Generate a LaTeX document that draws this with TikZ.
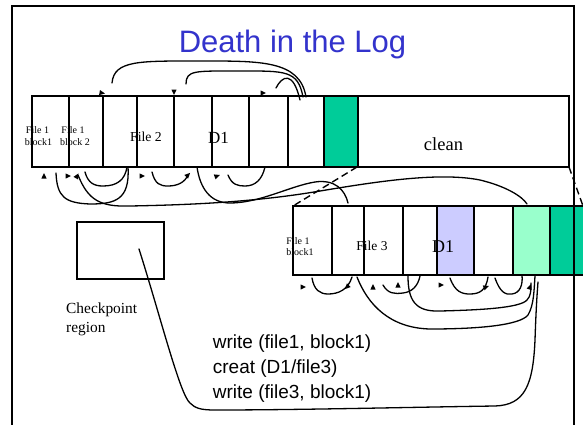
\documentclass[tikz,border=0pt]{standalone}
\usepackage{fontspec}
\setmainfont{Liberation Serif}
\newfontfamily\arialf{Liberation Sans}
\definecolor{tgreen}{RGB}{0,204,153}
\definecolor{lgreen}{RGB}{153,255,204}
\definecolor{lav}{RGB}{204,204,255}
\definecolor{tblue}{RGB}{51,51,204}
\newcommand\arrhd[3]{\fill[shift={(#1,#2)},rotate=#3] (3,0) -- (-2.5,2.6) -- (-2.5,-2.6) -- cycle;}
\begin{document}
\begin{tikzpicture}[x=1pt,y=-1pt,
  cell/.style={draw=black,line width=1.8pt},
  link/.style={line width=1.3pt,line cap=round},
  dashlink/.style={line width=1.4pt,dash pattern=on 7pt off 4pt},
  frameline/.style={line width=2pt},
  lbl/.style={inner sep=0pt,anchor=base},
  small/.style={lbl,font=\fontsize{10}{12}\selectfont},
  cmd/.style={inner sep=0pt,anchor=base west,font=\arialf\fontsize{19}{22}\selectfont}
  ]
\useasboundingbox (0,0) rectangle (583,424);
\fill[white] (0,0) rectangle (583,424);

% upper log row
\foreach \a/\b in {31.7/69.3, 69.3/103.3, 103.3/137.3, 137.3/174, 174/211.7, 211.7/249.3, 249.3/288.3, 288.3/324}
  \draw[cell] (\a,96) rectangle (\b,167);
\draw[cell,fill=tgreen] (324,96) rectangle (358,167);
\draw[cell] (358,96) rectangle (569.3,167);

% lower log row
\foreach \a/\b in {293.3/331.7, 331.7/364, 364/403.3, 403.3/436.7, 474.3/513.3}
  \draw[cell] (\a,206) rectangle (\b,275);
\draw[cell,fill=lav] (436.7,206) rectangle (474.3,275);
\draw[cell,fill=lgreen] (513.3,206) rectangle (550,275);
\draw[cell,fill=tgreen] (550,206) rectangle (588,275);

% checkpoint region
\draw[line width=1.8pt] (77,222) rectangle (164,279);

% dashed links
\draw[dashlink] (357,167) -- (293,206);
\draw[dashlink] (569,167) -- (583,206);

% links above upper row
\draw[link] (112,83) .. controls (114,60) and (140,61) .. (200,61) .. controls (260,61) and (300,60) .. (306,97);
\draw[link] (186,84) .. controls (186,70) and (195,71) .. (240,71) .. controls (285,71) and (298,70) .. (303,97);
\draw[link] (276,88) .. controls (282,76) and (293,70) .. (300,100);

% links below upper row
\draw[link] (56,173) .. controls (57,197) and (65,203) .. (90,204) .. controls (115,204) and (130,200) .. (128,167);
\draw[link] (85,172) .. controls (88,183) and (94,186) .. (103,186) .. controls (117,186) and (125,180) .. (127,167);
\draw[link] (152,172) .. controls (155,184) and (160,186) .. (168,186) .. controls (178,186) and (185,182) .. (188,175);
\draw[link] (228,175) .. controls (232,185) and (238,186) .. (245,186) .. controls (255,186) and (262,180) .. (265,167);
\draw[link] (78,175) .. controls (88,200) and (100,207) .. (130,206) .. controls (180,205) and (250,203) .. (320,191) .. controls (380,181) and (440,172) .. (480,180) .. controls (505,186) and (522,196) .. (527,204);
\draw[link] (197,167) .. controls (200,188) and (210,203) .. (230,203) .. controls (260,203) and (290,186) .. (315,182) .. controls (335,179) and (345,190) .. (348,203);

% links below lower row
\draw[link] (312,278) .. controls (314,290) and (320,294) .. (328,294) .. controls (338,294) and (348,290) .. (352,277);
\draw[link] (383,285) .. controls (388,294) and (395,294) .. (403,293) .. controls (412,292) and (418,286) .. (420,276);
\draw[link] (450,278) .. controls (455,292) and (462,294) .. (470,294) .. controls (480,294) and (486,290) .. (488,277);
\draw[link] (495,278) .. controls (500,292) and (505,295) .. (512,294) .. controls (520,293) and (523,285) .. (522,275);
\draw[link] (357,277) .. controls (368,305) and (390,328) .. (430,329) .. controls (480,329) and (520,325) .. (528,315) .. controls (534,305) and (534,290) .. (535,276);
\draw[link] (408,276) .. controls (408,300) and (415,312) .. (440,311) .. controls (480,310) and (520,308) .. (527,300) .. controls (531,296) and (531,290) .. (531,283);
\draw[link] (139,249) .. controls (160,315) and (180,395) .. (190,403) .. controls (195,408) and (200,410) .. (215,410) .. controls (300,410) and (420,407) .. (495,406) .. controls (525,405) and (533,385) .. (535,340) .. controls (536,310) and (537,295) .. (538,282);

% arrow heads
\arrhd{102}{93}{-10}
\arrhd{174}{92}{-90}
\arrhd{263}{93}{0}
\arrhd{44}{176}{90}
\arrhd{68}{176}{0}
\arrhd{77}{176}{60}
\arrhd{142}{176}{0}
\arrhd{188}{175}{45}
\arrhd{217}{176}{20}
\arrhd{303}{287}{0}
\arrhd{347}{287}{225}
\arrhd{373}{287}{90}
\arrhd{398}{285}{90}
\arrhd{441}{285}{0}
\arrhd{486}{287}{20}
\arrhd{530}{287}{70}

% texts
\node[lbl,font=\arialf\fontsize{31}{36}\selectfont,text=tblue] (title) at (292.5,52) {Death in the Log};
\node[small] (ua1) at (37.5,133.3) {File 1};
\node[small] (ua2) at (38.5,145) {block1};
\node[small] (ub1) at (73,133.3) {File 1};
\node[small] (ub2) at (75,145) {block 2};
\node[lbl,font=\fontsize{13.7}{16}\selectfont] (uf2) at (146,141.7) {File 2};
\node[lbl,font=\fontsize{17}{20}\selectfont] (ud1) at (218.5,143.3) {D1};
\node[lbl,font=\fontsize{18.5}{22}\selectfont] (clean) at (443.5,150) {clean};
\node[small] (la1) at (298,244) {File 1};
\node[small] (la2) at (300,255) {block1};
\node[lbl,font=\fontsize{13.5}{16}\selectfont] (lf3) at (372,250) {File 3};
\node[lbl,font=\fontsize{18}{21}\selectfont] (ld1) at (443,252.3) {D1};
\node[inner sep=0pt,anchor=base west,font=\fontsize{15.4}{18}\selectfont] (cp1) at (66,313) {Checkpoint};
\node[inner sep=0pt,anchor=base west,font=\fontsize{15.4}{18}\selectfont] (cp2) at (66,332) {region};
\node[cmd] (w1) at (212.7,348.3) {write (file1, block1)};
\node[cmd] (w2) at (212.7,373.3) {creat (D1/file3)};
\node[cmd] (w3) at (212.7,398.3) {write (file3, block1)};

% slide frame
\draw[frameline] (12,430) -- (12,6) -- (574,6) -- (574,430);
\end{tikzpicture}
\end{document}
